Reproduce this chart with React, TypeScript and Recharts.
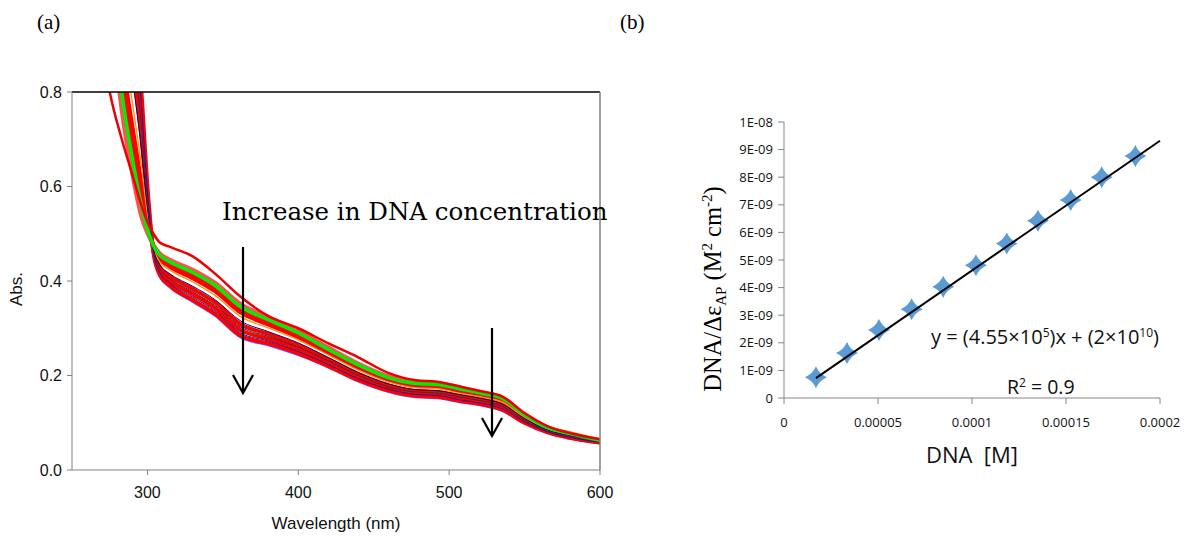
import React from 'react'
import { LineChart, Line, XAxis, YAxis, ReferenceLine, ComposedChart, Scatter } from 'recharts'

// (a) UV-vis spectra, absorbance read at each wavelength
const wavelengths = [265, 275, 283, 290, 296, 300, 304, 308, 315, 330, 345, 362, 380, 400, 420, 440, 460, 478, 492, 508, 522, 535, 550, 565, 580, 600]
const absTopRed = [1.0, 0.8, 0.7, 0.625, 0.56, 0.525, 0.5, 0.482, 0.472, 0.452, 0.415, 0.366, 0.326, 0.3, 0.268, 0.238, 0.205, 0.19, 0.187, 0.176, 0.166, 0.156, 0.12, 0.093, 0.078, 0.065]
const absPink = [1.43, 0.995, 0.76, 0.626, 0.536, 0.501, 0.4765, 0.459, 0.445, 0.424, 0.396, 0.351, 0.323, 0.294, 0.259, 0.225, 0.198, 0.186, 0.184, 0.174, 0.164, 0.154, 0.119, 0.091, 0.078, 0.0635]
const absGreen = [1.5, 1.05, 0.8, 0.66, 0.56, 0.51, 0.475, 0.455, 0.44, 0.418, 0.39, 0.345, 0.318, 0.29, 0.255, 0.222, 0.195, 0.183, 0.181, 0.171, 0.162, 0.152, 0.117, 0.09, 0.077, 0.063]
const absRed1 = [1.57, 1.105, 0.84, 0.694, 0.584, 0.519, 0.4735, 0.451, 0.435, 0.412, 0.384, 0.339, 0.313, 0.286, 0.252, 0.219, 0.192, 0.18, 0.178, 0.168, 0.16, 0.15, 0.115, 0.089, 0.076, 0.063]
const absRed2 = [1.64, 1.16, 0.88, 0.728, 0.608, 0.528, 0.472, 0.447, 0.43, 0.406, 0.378, 0.333, 0.308, 0.281, 0.248, 0.216, 0.19, 0.178, 0.176, 0.166, 0.157, 0.147, 0.114, 0.088, 0.075, 0.062]
const absOrange = [1.745, 1.24, 0.94, 0.779, 0.644, 0.542, 0.47, 0.441, 0.423, 0.398, 0.369, 0.324, 0.301, 0.275, 0.243, 0.211, 0.186, 0.174, 0.172, 0.162, 0.154, 0.144, 0.111, 0.087, 0.074, 0.061]
const absNavy1 = [1.85, 1.325, 1.0, 0.83, 0.68, 0.555, 0.468, 0.435, 0.415, 0.389, 0.36, 0.315, 0.293, 0.269, 0.238, 0.206, 0.182, 0.17, 0.168, 0.159, 0.151, 0.14, 0.109, 0.085, 0.073, 0.061]
const absRed3 = [1.92, 1.38, 1.04, 0.864, 0.704, 0.564, 0.466, 0.431, 0.41, 0.383, 0.354, 0.308, 0.288, 0.264, 0.234, 0.203, 0.179, 0.167, 0.165, 0.156, 0.148, 0.138, 0.107, 0.084, 0.072, 0.06]
const absBlack = [1.99, 1.435, 1.08, 0.898, 0.728, 0.573, 0.465, 0.427, 0.405, 0.377, 0.348, 0.302, 0.283, 0.26, 0.231, 0.2, 0.176, 0.165, 0.163, 0.154, 0.146, 0.135, 0.105, 0.083, 0.071, 0.0595]
const absRed4 = [2.06, 1.49, 1.12, 0.932, 0.752, 0.582, 0.463, 0.423, 0.4, 0.372, 0.342, 0.296, 0.278, 0.256, 0.227, 0.196, 0.173, 0.162, 0.16, 0.151, 0.144, 0.133, 0.103, 0.082, 0.07, 0.059]
const absNavy2 = [2.13, 1.545, 1.16, 0.966, 0.776, 0.591, 0.461, 0.419, 0.395, 0.366, 0.336, 0.29, 0.273, 0.251, 0.223, 0.193, 0.171, 0.16, 0.158, 0.148, 0.141, 0.13, 0.102, 0.081, 0.069, 0.0585]
const absRedBottom = [2.2, 1.6, 1.2, 1.0, 0.8, 0.6, 0.46, 0.415, 0.39, 0.36, 0.33, 0.284, 0.268, 0.247, 0.22, 0.19, 0.168, 0.157, 0.155, 0.146, 0.139, 0.128, 0.1, 0.08, 0.068, 0.058]
const absBlueEdge = [2.25, 1.64, 1.22, 1.01, 0.81, 0.605, 0.455, 0.41, 0.386, 0.356, 0.326, 0.28, 0.264, 0.243, 0.217, 0.187, 0.165, 0.154, 0.152, 0.143, 0.136, 0.125, 0.098, 0.078, 0.066, 0.056]

const wlTicks = [300, 400, 500, 600]
const absTicks = [0, 0.2, 0.4, 0.6, 0.8]

// draw order: wide reds first, thin coloured traces on top
const spectra = [
  { key: 'blueEdge', values: absBlueEdge, color: '#7a4dff', width: 2 },
  { key: 'pink', values: absPink, color: '#ff5050', width: 4 },
  { key: 'red1', values: absRed1, color: '#ff0000', width: 4 },
  { key: 'red2', values: absRed2, color: '#ff0000', width: 4 },
  { key: 'red3', values: absRed3, color: '#ff0000', width: 4 },
  { key: 'red4', values: absRed4, color: '#ff0000', width: 4 },
  { key: 'redBottom', values: absRedBottom, color: '#ff0000', width: 4 },
  { key: 'orange', values: absOrange, color: '#ff9900', width: 1.3 },
  { key: 'navy1', values: absNavy1, color: '#000080', width: 1 },
  { key: 'black', values: absBlack, color: '#333333', width: 1 },
  { key: 'navy2', values: absNavy2, color: '#1a1aa0', width: 1 },
  { key: 'green', values: absGreen, color: '#00ee00', width: 3.5 },
  { key: 'topRed', values: absTopRed, color: '#ee0000', width: 2.5 },
]

const spectrumRows = wavelengths.map((w, i) => {
  const row: Record<string, number> = { w }
  spectra.forEach((s) => {
    row[s.key] = s.values[i]
  })
  return row
})

// (b) DNA titration
const dnaConc = [1.7e-5, 3.35e-5, 5.05e-5, 6.79e-5, 8.47e-5, 1.021e-4, 1.185e-4, 1.351e-4, 1.525e-4, 1.69e-4, 1.869e-4]
const dnaRatio = [0.75e-9, 1.63e-9, 2.46e-9, 3.22e-9, 4.03e-9, 4.81e-9, 5.6e-9, 6.42e-9, 7.17e-9, 8.0e-9, 8.77e-9]
const fitX = [1.7e-5, 2e-4]
const fitY = [0.72e-9, 9.32e-9]
const concTicks = [0, 0.00005, 0.0001, 0.00015, 0.0002]
const concTickLabels = ['0', '0.00005', '0.0001', '0.00015', '0.0002']
const ratioTicks = [0, 1e-9, 2e-9, 3e-9, 4e-9, 5e-9, 6e-9, 7e-9, 8e-9, 9e-9, 1e-8]
const ratioTickLabels = ['0', '1E-09', '2E-09', '3E-09', '4E-09', '5E-09', '6E-09', '7E-09', '8E-09', '9E-09', '1E-08']

const points = dnaConc.map((x, i) => ({ x, y: dnaRatio[i] }))
const fitLine = fitX.map((x, i) => ({ x, y: fitY[i] }))

const labelFor = (ticks: number[], labels: string[]) => (v: number) => {
  const i = ticks.findIndex((t) => Math.abs(t - v) < Math.abs(ticks[1] - ticks[0]) * 1e-3)
  return i >= 0 ? labels[i] : ''
}

const Diamond = (props: any) => {
  const { cx, cy } = props
  const s = 11
  const c = s * 0.3
  return (
    <path
      d={`M${cx},${cy - s} Q${cx + c},${cy - c} ${cx + s},${cy} Q${cx + c},${cy + c} ${cx},${cy + s} Q${cx - c},${cy + c} ${cx - s},${cy} Q${cx - c},${cy - c} ${cx},${cy - s}Z`}
      fill="#5b9bd5"
    />
  )
}

const sans = '"Liberation Sans", Arial, sans-serif'
const calib = '"Open Sans", sans-serif'
const serif = '"Liberation Serif", "Times New Roman", serif'

export default function App() {
  return (
    <div style={{ position: 'absolute', left: 0, top: 0, width: 1188, height: 538, background: '#fff' }}>
      <div style={{ position: 'absolute', left: 0, top: 0 }}>
        <LineChart width={620} height={538} data={spectrumRows} margin={{ top: 92, right: 20, bottom: 38, left: 32 }}>
          <XAxis
            dataKey="w"
            type="number"
            domain={[250, 600]}
            ticks={wlTicks}
            allowDataOverflow
            height={30}
            stroke="#808080"
            tickSize={5}
            tickMargin={12}
            tick={{ fill: '#111', fontSize: 16, fontFamily: sans }}
          />
          <YAxis
            type="number"
            domain={[0, 0.8]}
            ticks={absTicks}
            allowDataOverflow
            width={40}
            stroke="#808080"
            tickSize={5}
            tickMargin={5}
            tickFormatter={(v: number) => v.toFixed(1)}
            tick={{ fill: '#111', fontSize: 16, fontFamily: sans }}
          />
          {spectra.map((s) => (
            <Line
              key={s.key}
              dataKey={s.key}
              type="monotone"
              stroke={s.color}
              strokeWidth={s.width}
              dot={false}
              isAnimationActive={false}
            />
          ))}
          <ReferenceLine y={0.8} stroke="#000" strokeWidth={1.5} />
          <ReferenceLine x={600} stroke="#808080" strokeWidth={1.5} />
        </LineChart>
      </div>

      <div style={{ position: 'absolute', left: 620, top: 0 }}>
        <ComposedChart width={568} height={538} margin={{ top: 122, right: 28, bottom: 110, left: 104 }}>
          <XAxis
            dataKey="x"
            type="number"
            domain={[0, 0.0002]}
            ticks={concTicks}
            height={30}
            stroke="#868686"
            tickSize={6}
            tickMargin={14}
            tickFormatter={labelFor(concTicks, concTickLabels)}
            tick={{ fill: '#111', fontSize: 13, fontFamily: calib }}
          />
          <YAxis
            dataKey="y"
            type="number"
            domain={[0, 1e-8]}
            ticks={ratioTicks}
            width={60}
            stroke="#868686"
            tickSize={6}
            tickMargin={5}
            tickFormatter={labelFor(ratioTicks, ratioTickLabels)}
            tick={{ fill: '#111', fontSize: 13, fontFamily: calib }}
          />
          <Scatter data={points} shape={Diamond} isAnimationActive={false} />
          <Scatter
            data={fitLine}
            line={{ stroke: '#000', strokeWidth: 2 }}
            shape={() => <g />}
            isAnimationActive={false}
          />
        </ComposedChart>
      </div>

      <svg width={1188} height={538} style={{ position: 'absolute', left: 0, top: 0, pointerEvents: 'none' }}>
        <text x={37} y={29} fontFamily={serif} fontSize={21} fill="#000">(a)</text>
        <text x={620} y={29} fontFamily={serif} fontSize={21} fill="#000">(b)</text>

        <text x={222} y={220} fontFamily='"DejaVu Serif", serif' fontSize={24.5} fill="#000">
          Increase in DNA concentration
        </text>
        <g stroke="#000" strokeWidth={2.2} fill="none">
          <line x1={243} y1={247} x2={243} y2={392} />
          <polyline points="233,375 243,393 253,375" />
          <line x1={492} y1={328} x2={492} y2={435} />
          <polyline points="482,418 492,436 502,418" />
        </g>

        <text transform="translate(22,289) rotate(-90)" textAnchor="middle" fontFamily={sans} fontSize={17} fill="#111">
          Abs.
        </text>
        <text x={336} y={529} textAnchor="middle" fontFamily={sans} fontSize={17} fill="#111">
          Wavelength (nm)
        </text>

        <text transform="translate(721,289) rotate(-90)" textAnchor="middle" fontFamily={serif} fontSize={24.5} fill="#000">
          DNA/Δε
          <tspan fontSize={15} dy={5}>AP</tspan>
          <tspan dy={-5}> (M</tspan>
          <tspan fontSize={15} dy={-9}>2</tspan>
          <tspan dy={9}> cm</tspan>
          <tspan fontSize={15} dy={-9}>-2</tspan>
          <tspan dy={9}>)</tspan>
        </text>
        <text x={972} y={463} textAnchor="middle" fontFamily={calib} fontSize={22} fill="#111" style={{ whiteSpace: 'pre' }}>
          DNA  [M]
        </text>

        <text x={931} y={344} fontFamily={calib} fontSize={20} fill="#111">
          y = (4.55×10
          <tspan fontSize={12} dy={-7}>5</tspan>
          <tspan dy={7}>)x + (2×10</tspan>
          <tspan fontSize={12} dy={-7}>10</tspan>
          <tspan dy={7}>)</tspan>
        </text>
        <text x={1007} y={394} fontFamily={calib} fontSize={19.5} fill="#111">
          R
          <tspan fontSize={12} dy={-7}>2</tspan>
          <tspan dy={7}> = 0.9</tspan>
        </text>
      </svg>
    </div>
  )
}
